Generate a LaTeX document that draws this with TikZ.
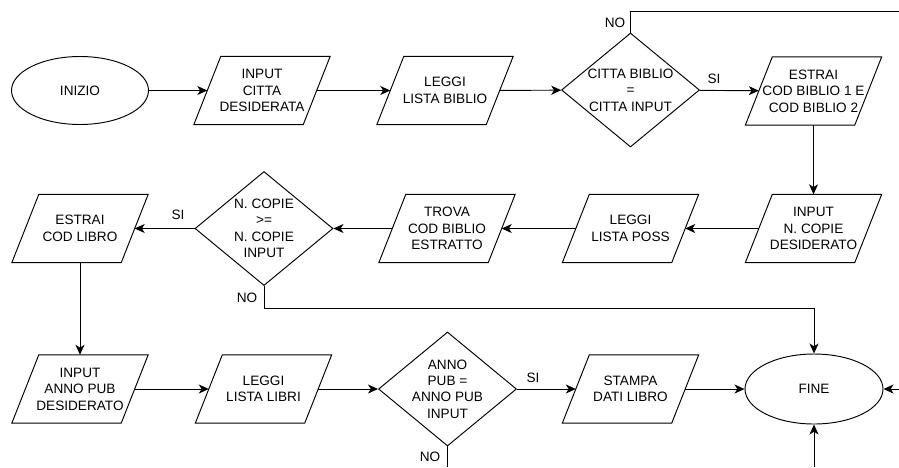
\documentclass[tikz,border=0pt]{standalone}
\usepackage{fontspec}
\setmainfont{Liberation Sans}
\usetikzlibrary{shapes.geometric,arrows.meta,calc}
\begin{document}
\begin{tikzpicture}[x=1pt,y=-1pt,
  every node/.style={font=\fontsize{13.6}{16.4}\selectfont},
  io/.style={minimum width=109pt, minimum height=68pt, inner sep=0pt, align=center},
  term/.style={ellipse, draw, line width=0.95pt, minimum width=137pt, minimum height=68pt, inner sep=0pt},
  dec/.style={diamond, draw, line width=0.95pt, minimum width=138pt, minimum height=114pt, inner sep=0pt},
  dectext/.style={align=center, inner sep=0pt},
  arr/.style={line width=0.95pt, -{Stealth[length=10pt,width=9pt,inset=2.8pt]}},
  ln/.style={line width=0.95pt},
  lab/.style={inner sep=0pt}
]
\useasboundingbox (0,0) rectangle (899,467);

% row 1
\node[term] (inizio) at (80,90.5) {INIZIO};
\node[io] (p1) at (262,90.5) {INPUT\\CITTA\\DESIDERATA};
\node[io] (p2) at (445,90.5) {LEGGI\\LISTA BIBLIO};
\node[dec] (d1) at (630.5,90) {};
\node[dectext] (d1t) at (d1) {CITTA BIBLIO\\=\\CITTA INPUT};
\node[io] (p3) at (813.5,91) {ESTRAI\\COD BIBLIO 1 E\\COD BIBLIO 2};

% row 2
\node[io] (p4) at (813.5,228.5) {INPUT\\N. COPIE\\DESIDERATO};
\node[io] (p5) at (630.5,228.5) {LEGGI\\LISTA POSS};
\node[io] (p6) at (447,228.5) {TROVA\\COD BIBLIO\\ESTRATTO};
\node[dec] (d2) at (264,228.5) {};
\node[dectext] (d2t) at (d2) {N. COPIE\\>=\\N. COPIE\\INPUT};
\node[io] (p7) at (80,228.5) {ESTRAI\\COD LIBRO};

% row 3
\node[io] (p8) at (80,389) {INPUT\\ANNO PUB\\DESIDERATO};
\node[io] (p9) at (263.5,389) {LEGGI\\LISTA LIBRI};
\node[dec] (d3) at (447.5,389) {};
\node[dectext] (d3t) at (d3) {ANNO\\PUB =\\ANNO PUB\\INPUT};
\node[io] (p10) at (630.5,389) {STAMPA\\DATI LIBRO};
\node[term, minimum width=138pt, minimum height=70pt] (fine) at (814,389) {FINE};

% parallelogram outlines
\foreach \n in {p1,p2,p3,p4,p5,p6,p7,p8,p9,p10}
  \draw[ln, line join=miter] ([xshift=-13.5pt]\n.south west) -- ([xshift=-13.5pt]\n.south east)
     -- ([xshift=13.5pt]\n.north east) -- ([xshift=13.5pt]\n.north west) -- cycle;

% free ends
\coordinate (ne) at (899,11);
\coordinate (re) at (899,389);
\coordinate (be) at (814,467);
\coordinate (b3) at (447.5,467);

% connectors row 1
\draw[arr] (inizio) -- (p1);
\draw[arr] (p1) -- (p2);
\draw[arr] (p2) -- (d1);
\draw[arr] (d1) -- (p3);
\draw[ln] (d1.north) |- (ne);
\draw[arr] (p3) -- (p4);

% row 2
\draw[arr] (p4) -- (p5);
\draw[arr] (p5) -- (p6);
\draw[arr] (p6) -- (d2);
\draw[arr] (d2) -- (p7);
\draw[arr] (d2.south) -- ++(0,22) -| (fine.north);
\draw[arr] (p7) -- (p8);

% row 3
\draw[arr] (p8) -- (p9);
\draw[arr] (p9) -- (d3);
\draw[arr] (d3) -- (p10);
\draw[arr] (p10) -- (fine);
\draw[ln] (d3.south) -- (b3);
\draw[arr] (re) -- (fine.east);
\draw[arr] (be) -- (fine.south);

% labels
\node[lab] (no1) at (615,23) {NO};
\node[lab] (si1) at (714,79) {SI};
\node[lab] (si2) at (178,215) {SI};
\node[lab] (no2) at (247,298) {NO};
\node[lab] (si3) at (533,378) {SI};
\node[lab] (no3) at (430,457) {NO};
\end{tikzpicture}
\end{document}
